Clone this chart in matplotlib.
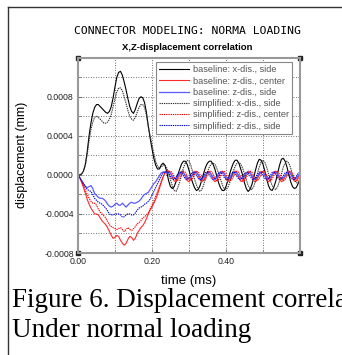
import numpy as np
import matplotlib
matplotlib.use("Agg")
import matplotlib.pyplot as plt
from matplotlib.lines import Line2D
from matplotlib.ticker import FixedLocator, FormatStrFormatter

# time axis (ms), one sample every 0.005 ms
time_ms = np.round(np.arange(0, 0.6001, 0.005), 3)

# baseline model, x-displacement at side
base_x_side = [
    0, 0, 0.00001, 0.00004, 0.00011, 0.00024, 0.0004, 0.00053, 0.00063, 0.00069,
    0.00072, 0.00072, 0.0007, 0.00068, 0.00066, 0.00064, 0.00063, 0.00065, 0.0007, 0.00079,
    0.0009, 0.001, 0.00105, 0.00106, 0.00102, 0.00095, 0.00087, 0.00078, 0.0007, 0.00065,
    0.00063, 0.00067, 0.00073, 0.00078, 0.0008, 0.00079, 0.00074, 0.00064, 0.0005, 0.00038,
    0.00027, 0.00017, 0.0001, 0.00006, 0.00006, 0.0001, 0.00012, 0.0001, 0.00003, -0.00006,
    -0.00012, -0.00014, -0.00012, -0.00007, 0.0, 0.00006, 0.00011, 0.00014, 0.00014, 0.00011,
    0.00005, -0.00002, -0.00008, -0.00013, -0.00016, -0.00015, -0.00011, -0.00005, 0.00002, 0.00008,
    0.00012, 0.00014, 0.00014, 0.00011, 0.00006, -0.00001, -0.00008, -0.00013, -0.00016, -0.00016,
    -0.00012, -0.00006, 0.00001, 0.00007, 0.00012, 0.00015, 0.00015, 0.00012, 0.00006, 0.0,
    -0.00008, -0.00014, -0.00017, -0.00015, -0.0001, -0.00003, 0.00005, 0.00012, 0.00016, 0.00015,
    0.00011, 0.00004, -0.00004, -0.00011, -0.00015, -0.00016, -0.00012, -0.00006, 0.00002, 0.0001,
    0.00016, 0.00017, 0.00014, 0.00008, 0.0, -0.00007, -0.00012, -0.00014, -0.00013, -0.00009,
    -0.00005,
]

# baseline model, z-displacement at center
base_z_center = [
    0, -0.00003, -0.00008, -0.00013, -0.00019, -0.00025, -0.0003, -0.00034, -0.00037, -0.0004,
    -0.0004, -0.00041, -0.00044, -0.00047, -0.00049, -0.00051, -0.00054, -0.00058, -0.00062, -0.00065,
    -0.00064, -0.00062, -0.00063, -0.00067, -0.0007, -0.00072, -0.0007, -0.00066, -0.00063, -0.00064,
    -0.00067, -0.00065, -0.0006, -0.00057, -0.00054, -0.00052, -0.00049, -0.00045, -0.0004, -0.00036,
    -0.00033, -0.00029, -0.00025, -0.0002, -0.00014, -0.00008, -0.00002, 0.00002, 0.00004, 0.00004,
    0.00002, -0.000025, -0.000063, -0.000067, -0.000034, 0.000013, 0.000039, 0.000027, -0.000015, -0.000057,
    -0.00007, -0.000043, 0.000004, 0.000037, 0.000033, -0.000005, -0.00005, -0.00007, -0.00005, -0.000005,
    0.000033, 0.000037, 0.000004, -0.000043, -0.00007, -0.000057, -0.000015, 0.000027, 0.000039, 0.000013,
    -0.000034, -0.000067, -0.000063, -0.000025, 0.00002, 0.00004, 0.00002, -0.00003, -0.000065, -0.000068,
    -0.000035, 0.00001, 0.000038, 0.000028, -0.000015, -0.000058, -0.000072, -0.000044, 0.000002, 0.000036,
    0.000034, -0.000004, -0.00005, -0.00007, -0.000052, -0.000006, 0.000032, 0.000038, 0.000005, -0.000042,
    -0.00007, -0.000058, -0.000016, 0.000026, 0.00004, 0.000014, -0.000032, -0.000066, -0.000064, -0.000026,
    0.000018,
]

# baseline model, z-displacement at side
base_z_side = [
    0, -0.00003, -0.00006, -0.00009, -0.00012, -0.00013, -0.00012, -0.00011, -0.00014, -0.00019,
    -0.00021, -0.00023, -0.00024, -0.00024, -0.00025, -0.00027, -0.0003, -0.00032, -0.00033, -0.00032,
    -0.0003, -0.00029, -0.00031, -0.00031, -0.00029, -0.00031, -0.00033, -0.00031, -0.00029, -0.00028,
    -0.00029, -0.00029, -0.00028, -0.00027, -0.00025, -0.00022, -0.0002, -0.00019, -0.00018, -0.00015,
    -0.00012, -0.00009, -0.00007, -0.00004, -0.00001, 0.00002, 0.00003, 0.00003, 0.00002, 0.00003,
    0.0000175, -0.000011, -0.000035, -0.000038, -0.000017, 0.0000125, 0.00003, 0.000022, -0.000005, -0.000032,
    -0.00004, -0.0000225, 0.000007, 0.000028, 0.000025, 0.000001, -0.000027, -0.00004, -0.000027, 0.000001,
    0.000025, 0.000028, 0.000007, -0.0000225, -0.00004, -0.000032, -0.000005, 0.000022, 0.00003, 0.0000125,
    -0.000017, -0.000038, -0.000035, -0.000011, 0.0000175, 0.00003, 0.0000175, -0.000011, -0.000035, -0.000038,
    -0.000017, 0.0000125, 0.00003, 0.000022, -0.000005, -0.000032, -0.00004, -0.0000225, 0.000007, 0.000028,
    0.000025, 0.000001, -0.000027, -0.00004, -0.000027, 0.000001, 0.000025, 0.000028, 0.000007, -0.0000225,
    -0.00004, -0.000032, -0.000005, 0.000022, 0.00003, 0.0000125, -0.000017, -0.000038, -0.000035, -0.000011,
    0.0000175,
]

# simplified model, x-displacement at side
simp_x_side = [
    0, 0, 0.00001, 0.00004, 0.0001, 0.00021, 0.00035, 0.00046, 0.00054, 0.00059,
    0.0006, 0.00059, 0.00057, 0.00055, 0.00053, 0.00053, 0.00054, 0.00057, 0.00062, 0.0007,
    0.00078, 0.00085, 0.00089, 0.00089, 0.00086, 0.0008, 0.00073, 0.00066, 0.0006, 0.00057,
    0.00056, 0.00059, 0.00064, 0.00069, 0.00072, 0.00072, 0.00069, 0.00061, 0.0005, 0.0004,
    0.00031, 0.00022, 0.00014, 0.00009, 0.00007, 0.00008, 0.0001, 0.0001, 0.00007, 0.00002,
    -0.00005, -0.00011, -0.00016, -0.00017, -0.00013, -0.00007, 0.0, 0.00007, 0.00012, 0.00015,
    0.00014, 0.0001, 0.00003, -0.00004, -0.0001, -0.00015, -0.00017, -0.00015, -0.0001, -0.00004,
    0.00003, 0.00008, 0.00011, 0.00012, 0.00011, 0.00007, 0.00002, -0.00004, -0.0001, -0.00014,
    -0.00015, -0.00013, -0.00008, -0.00002, 0.00004, 0.00009, 0.00012, 0.00013, 0.00011, 0.00007,
    0.00001, -0.00005, -0.00011, -0.00014, -0.00015, -0.00012, -0.00006, 0.00001, 0.00008, 0.00013,
    0.00015, 0.00013, 0.00008, 0.00001, -0.00006, -0.00011, -0.00014, -0.00015, -0.00012, -0.00006,
    0.00001, 0.00008, 0.00012, 0.00014, 0.00012, 0.00007, 0.0, -0.00005, -0.00008, -0.00008,
    -0.00006,
]

# simplified model, z-displacement at center
simp_z_center = [
    0, -0.00003, -0.00007, -0.00011, -0.00016, -0.0002, -0.00024, -0.00027, -0.00029, -0.00029,
    -0.00031, -0.00035, -0.00038, -0.0004, -0.00042, -0.00044, -0.00048, -0.00051, -0.00053, -0.00054,
    -0.00055, -0.00056, -0.00055, -0.00054, -0.00056, -0.00058, -0.00056, -0.00054, -0.00056, -0.00057,
    -0.00055, -0.00053, -0.0005, -0.00049, -0.00047, -0.00044, -0.00043, -0.00041, -0.00039, -0.00035,
    -0.00031, -0.00027, -0.00022, -0.00017, -0.00012, -0.00007, -0.00002, 0.00002, 0.00004, 0.00003,
    0.00004, 0.000022, -0.000019, -0.000053, -0.000057, -0.000027, 0.000015, 0.000039, 0.000028, -0.00001,
    -0.000048, -0.000059, -0.000035, 0.000007, 0.000037, 0.000033, -0.000001, -0.000042, -0.00006, -0.000042,
    -0.000001, 0.000033, 0.000037, 0.000007, -0.000035, -0.000059, -0.000048, -0.00001, 0.000028, 0.000039,
    0.000015, -0.000027, -0.000057, -0.000053, -0.000019, 0.000022, 0.00004, 0.000022, -0.000019, -0.000053,
    -0.000057, -0.000027, 0.000015, 0.000039, 0.000028, -0.00001, -0.000048, -0.000059, -0.000035, 0.000007,
    0.000037, 0.000033, -0.000001, -0.000042, -0.00006, -0.000042, -0.000001, 0.000033, 0.000037, 0.000007,
    -0.000035, -0.000059, -0.000048, -0.00001, 0.000028, 0.000039, 0.000015, -0.000027, -0.000057, -0.000053,
    -0.000019,
]

# simplified model, z-displacement at side
simp_z_side = [
    0, -0.00003, -0.00006, -0.00009, -0.00012, -0.00015, -0.00016, -0.00017, -0.0002, -0.00024,
    -0.00026, -0.00028, -0.00029, -0.0003, -0.00032, -0.00034, -0.00037, -0.0004, -0.00041, -0.00041,
    -0.0004, -0.0004, -0.0004, -0.00041, -0.00043, -0.00043, -0.00041, -0.0004, -0.0004, -0.00041,
    -0.00041, -0.00039, -0.00036, -0.00034, -0.00033, -0.00032, -0.0003, -0.00029, -0.00027, -0.00025,
    -0.00021, -0.00017, -0.00013, -0.00009, -0.00005, -0.00001, 0.00002, 0.00003, 0.00003, 0.000016,
    -0.000017, -0.000045, -0.000048, -0.000024, 0.00001, 0.000029, 0.000021, -0.00001, -0.000041, -0.000049,
    -0.00003, 0.000004, 0.000028, 0.000025, -0.000003, -0.000036, -0.00005, -0.000036, -0.000003, 0.000025,
    0.000028, 0.000004, -0.00003, -0.000049, -0.000041, -0.00001, 0.000021, 0.000029, 0.00001, -0.000024,
    -0.000048, -0.000045, -0.000017, 0.000016, 0.00003, 0.000016, -0.000017, -0.000045, -0.000048, -0.000024,
    0.00001, 0.000029, 0.000021, -0.00001, -0.000041, -0.000049, -0.00003, 0.000004, 0.000028, 0.000025,
    -0.000003, -0.000036, -0.00005, -0.000036, -0.000003, 0.000025, 0.000028, 0.000004, -0.00003, -0.000049,
    -0.000041, -0.00001, 0.000021, 0.000029, 0.00001, -0.000024, -0.000048, -0.000045, -0.000017, 0.000016,
    0.00003,
]

series_labels = [
    "baseline: x-dis., side",
    "baseline: z-dis., center",
    "baseline: z-dis., side",
    "simplified: x-dis., side",
    "simplified: z-dis., center",
    "simplified: z-dis., side",
]

x_major = [0.0, 0.2, 0.4]
x_minor = [0.1, 0.3, 0.5]
y_major = [-0.0008, -0.0004, 0.0, 0.0004, 0.0008]
y_minor = [-0.0006, -0.0002, 0.0002, 0.0006, 0.001]

sans = ["Liberation Sans", "DejaVu Sans"]

fig = plt.figure(figsize=(3.42, 3.55), dpi=100)
ax = fig.add_axes([0.228, 0.2873, 0.649, 0.5502])

dots = (0, (1.2, 0.8))
ax.plot(time_ms, base_x_side, color="black", lw=0.8, label=series_labels[0])
ax.plot(time_ms, base_z_center, color="#ff2a2a", lw=0.8, label=series_labels[1])
ax.plot(time_ms, base_z_side, color="#5a5aff", lw=0.9, label=series_labels[2])
ax.plot(time_ms, simp_x_side, color="#333333", lw=0.8, ls=dots, label=series_labels[3])
ax.plot(time_ms, simp_z_center, color="#ff0000", lw=0.8, ls=dots, label=series_labels[4])
ax.plot(time_ms, simp_z_side, color="#0000dd", lw=0.8, ls=dots, label=series_labels[5])

ax.set_xlim(0, 0.6)
ax.set_ylim(-0.0008, 0.0012)
ax.xaxis.set_major_locator(FixedLocator(x_major))
ax.xaxis.set_minor_locator(FixedLocator(x_minor))
ax.yaxis.set_major_locator(FixedLocator(y_major))
ax.yaxis.set_minor_locator(FixedLocator(y_minor))
ax.xaxis.set_major_formatter(FormatStrFormatter("%.2f"))
ax.yaxis.set_major_formatter(FormatStrFormatter("%.4f"))
ax.grid(True, which="both", color="#444444", lw=0.6, ls=(0, (1, 2)))
ax.set_axisbelow(True)

ax.tick_params(which="both", direction="in", color="#777777", labelsize=6.3,
               labelcolor="#222222")
ax.tick_params(which="major", length=3, pad=3)
ax.tick_params(which="minor", length=2)
for lab in ax.get_xticklabels() + ax.get_yticklabels():
    lab.set_family(sans)
for sp in ax.spines.values():
    sp.set_color("#999999")
    sp.set_linewidth(1.5)

# little black squares at the plot corners
ax.plot([0, 1, 0, 1], [0, 0, 1, 1], "s", ms=3.5, color="#222222",
        transform=ax.transAxes, clip_on=False)

ax.set_xlabel("time (ms)", family=sans, fontsize=9.5, labelpad=6)
ax.set_ylabel("displacement (mm)", family=sans, fontsize=9, labelpad=12)

leg = ax.legend(loc="upper left", bbox_to_anchor=(0.351, 0.978),
                prop={"family": sans, "size": 6.6}, fancybox=False, framealpha=1,
                edgecolor="#888888", handlelength=3.3, handletextpad=0.4,
                labelspacing=0.25, borderpad=0.35, borderaxespad=0)
leg.get_frame().set_linewidth(0.8)
for txt in leg.get_texts():
    txt.set_color("#555555")

fig.text(0.548, 0.9127, "CONNECTOR MODELING: NORMA LOADING", ha="center", va="center",
         family=["DejaVu Sans Mono"], fontsize=8.2)
fig.text(0.548, 0.8648, "X,Z-displacement correlation", ha="center", va="center",
         family=sans, fontsize=6.8, fontweight="bold")

# caption under the chart
serif = ["Liberation Serif", "DejaVu Serif"]
fig.text(12 / 342, 1 - 307 / 355, "Figure 6. Displacement correlation", ha="left",
         va="baseline", family=serif, fontsize=19.5)
fig.text(12 / 342, 1 - 337 / 355, "Under normal loading", ha="left",
         va="baseline", family=serif, fontsize=19.5)

# frame around the picture
fig.add_artist(Line2D([8 / 342, 1.0], [1 - 7 / 355] * 2, color="#333333", lw=1))
fig.add_artist(Line2D([8 / 342] * 2, [0.0, 1 - 7 / 355], color="#333333", lw=1))

fig.savefig("out.png", dpi=100)
